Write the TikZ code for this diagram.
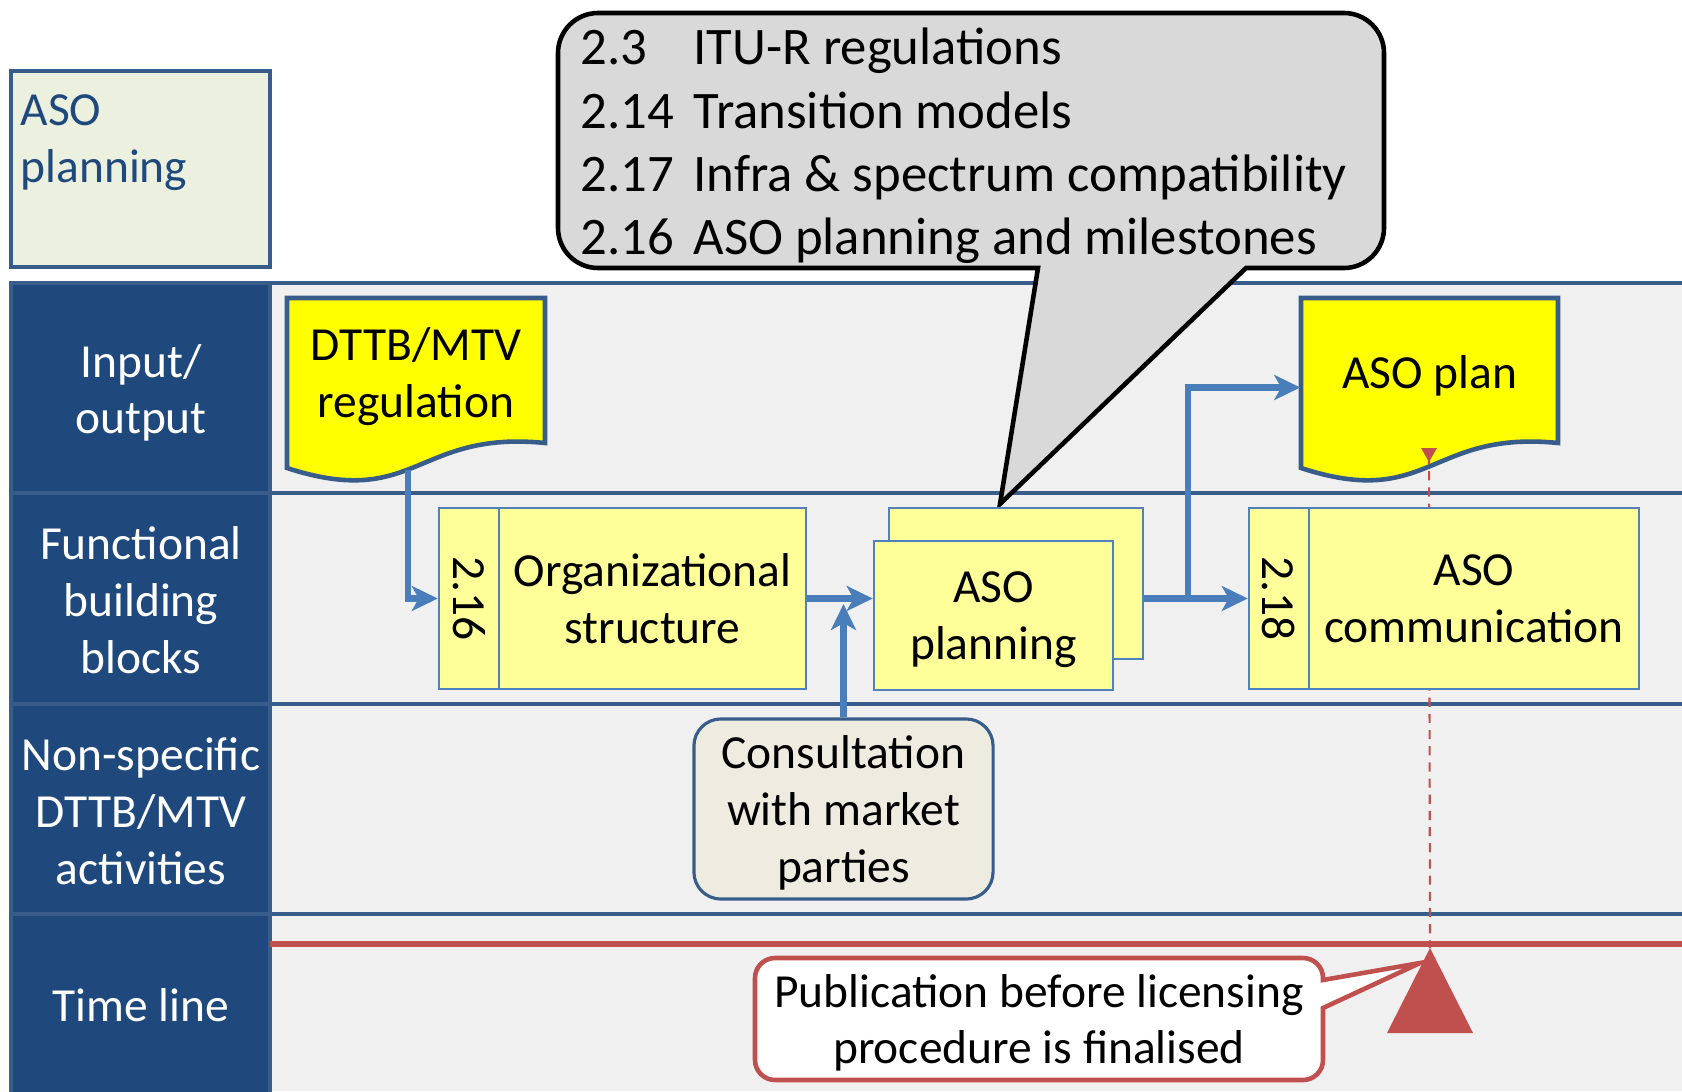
\documentclass[tikz,border=0pt]{standalone}
\usepackage{fontspec}
\setmainfont{Carlito}
\usetikzlibrary{arrows.meta}

\definecolor{laneline}{HTML}{385D8A}
\definecolor{headblue}{HTML}{1F497D}
\definecolor{lanegrey}{HTML}{F0F0F0}
\definecolor{phasegreen}{HTML}{EBF1DE}
\definecolor{docyellow}{HTML}{FFFF00}
\definecolor{blockyellow}{HTML}{FFFF99}
\definecolor{blockline}{HTML}{4F81BD}
\definecolor{flowblue}{HTML}{4A7EBB}
\definecolor{calloutgrey}{HTML}{D9D9D9}
\definecolor{consultfill}{HTML}{EEECE1}
\definecolor{milered}{HTML}{C0504D}

\begin{document}
\begin{tikzpicture}[x=0.01cm, y=-0.01cm,
  every node/.style={font=\fontsize{13.5}{16.2}\selectfont},
  lanelabel/.style={text=white, align=center, text depth=0pt},
  docbox/.style={fill=docyellow, draw=laneline, line width=1.3pt},
  doctext/.style={align=center, minimum width=2.57cm, minimum height=1.79cm, text depth=8.7pt, inner sep=0pt},
  numbox/.style={fill=blockyellow, draw=blockline, line width=0.7pt, minimum width=0.6cm, minimum height=1.81cm, inner sep=0pt},
  blockbox/.style={fill=blockyellow, draw=blockline, line width=0.7pt, align=center, inner sep=0pt},
  flow/.style={draw=flowblue, line width=1.8pt, -{Stealth[length=0.26cm, width=0.25cm, inset=0.07cm]}}
]
  \useasboundingbox (0,0) rectangle (1682,1091);

  % Swim lanes
  \fill[lanegrey] (270,283) rectangle (1682,1091);
  \foreach \y in {283,493,704,914}
    \draw[laneline, line width=1.3pt] (270,\y) -- (1682,\y);

  % Lane headers
  \foreach \ya/\yb in {283/493, 493/704, 704/914, 914/1100}
    \filldraw[fill=headblue, draw=laneline, line width=1.3pt] (11,\ya) rectangle (270,\yb);
  \node[lanelabel] (io) at (141,389) {Input/\\output};
  \node[lanelabel] (fbb) at (141,600) {Functional\\building\\blocks};
  \node[lanelabel] (nonspec) at (141,811) {Non-specific\\DTTB/MTV\\activities};
  \node[lanelabel] (tline) at (141,1005) {Time line};

  % Phase
  \filldraw[fill=phasegreen, draw=laneline, line width=1.2pt] (11,71) rectangle (270,267);
  \node[text=headblue, align=left, anchor=north west, inner sep=0pt] (phase) at (20,94) {ASO\\planning};

  % Time line
  \draw[milered, line width=1.5pt] (270,944) -- (1682,944);

  % Callout with chapter references
  \filldraw[fill=calloutgrey, draw=black, line width=1.3pt]
    (558,140) [rounded corners=0.4cm] -- (558,268) [sharp corners] -- (1038,268) -- (1000,504)
    -- (1246,268) [rounded corners=0.4cm] -- (1384,268) -- (1384,13) -- (558,13) -- cycle;
  \node[anchor=west, inner sep=0pt, font=\fontsize{15}{18}\selectfont] (refs) at (580,147)
    {\begin{tabular}{@{}l@{\hspace{5.5pt}}l@{}}
      2.3 & ITU-R regulations\\
      2.14 & Transition models\\
      2.17 & Infra \& spectrum compatibility\\
      2.16 & ASO planning and milestones
    \end{tabular}};

  % Input / output documents
  \filldraw[docbox] (287,298) -- (545,298) -- (545,443)
    .. controls (416,430) and (416,510) .. (287,468) -- cycle;
  \node[doctext] (dttb) at (416,387.5) {DTTB/MTV\\regulation};
  \filldraw[docbox] (1301,298) -- (1558,298) -- (1558,443)
    .. controls (1429.5,430) and (1429.5,510) .. (1301,468) -- cycle;
  \node[doctext] (asoplan) at (1429.5,387.5) {ASO plan};

  % Milestone marker
  \coordinate (markertop) at (1429,455);
  \coordinate (milestone) at (1430,948);
  \draw[milered, line width=0.6pt, dash pattern=on 2.6pt off 2pt] (markertop) -- (milestone);
  \fill[milered] (1421,448) -- (1437,448) -- (1429,462) -- cycle;

  % Functional building blocks
  \node[numbox] (org16) at (469,598.5) {\rotatebox{-90}{2.16}};
  \node[blockbox, minimum width=3.07cm, minimum height=1.81cm] (orgbox) at (652.5,598.5) {Organizational\\structure};
  \node[blockbox, minimum width=2.54cm, minimum height=1.51cm] (planback) at (1016,583.5) {};
  \node[blockbox, minimum width=2.39cm, minimum height=1.49cm, text depth=0pt] (planfront) at (993.5,615.5) {ASO\\planning};
  \node[numbox] (comm18) at (1279,598.5) {\rotatebox{-90}{2.18}};
  \node[blockbox, minimum width=3.3cm, minimum height=1.81cm] (commbox) at (1474,598.5) {ASO\\communication};

  % Non-specific activity
  \node[draw=laneline, fill=consultfill, line width=0.9pt, rounded corners=0.27cm, align=center,
    minimum width=2.99cm, minimum height=1.8cm, inner sep=0pt, text depth=0pt] (consult) at (843.5,809)
    {Consultation\\with market\\parties};

  % Flow
  \coordinate (dttbout) at (408,470);
  \coordinate (merge) at (843.5,604);
  \coordinate (split) at (1188,598.5);
  \draw[flow] (dttbout) |- (org16.west);
  \draw[flow] (orgbox.east) -- (orgbox.east -| planfront.west);
  \draw[flow] (consult.north) -- (merge);
  \draw[flow] (planback.east |- orgbox.east) -- (orgbox.east -| comm18.west);
  \draw[flow] (split) |- (asoplan.west);

  % Publication milestone
  \fill[milered] (milestone) -- (1473,1033) -- (1387,1033) -- cycle;
  \filldraw[fill=white, draw=milered, line width=1.3pt]
    (755,1020) [rounded corners=0.2cm] -- (755,958) -- (1323,958) [sharp corners] -- (1323,980)
    -- (1420,963) -- (1323,1008) [rounded corners=0.2cm] -- (1323,1080) -- (755,1080) -- cycle;
  \node[align=center, text depth=0pt] (publication) at (1039,1019) {Publication before licensing\\procedure is finalised};
\end{tikzpicture}
\end{document}
